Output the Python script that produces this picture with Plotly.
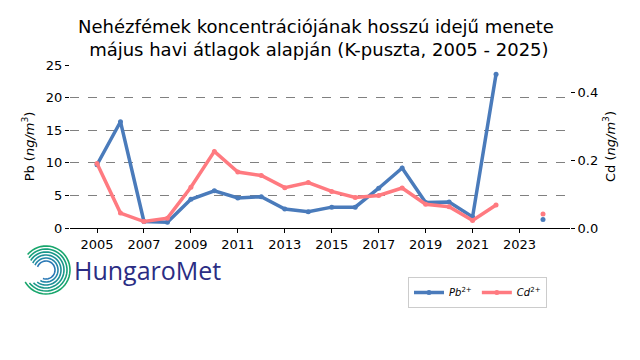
import numpy as np
import plotly.graph_objects as go

years = list(range(2005, 2025))
pb = [9.7, 16.3, 1.0, 0.9, 4.4, 5.7, 4.6, 4.8, 2.9, 2.5, 3.2, 3.2, 6.1, 9.2, 3.9, 4.0, 1.7, 23.6, None, 1.3]
cd = [0.19, 0.044, 0.019, 0.029, 0.12, 0.226, 0.165, 0.155, 0.119, 0.134, 0.108, 0.090, 0.096, 0.118, 0.070, 0.063, 0.022, 0.068, None, 0.041]
x_ticks = list(range(2005, 2025, 2))

BLUE = "#4a7bbb"
RED = "#ff7a80"
FONT = "DejaVu Sans"

OFF = 8  # page body margin
W, H = 640 - OFF, 360 - OFF
L, T = 70 - OFF, 65 - OFF
pw, ph = 500, 163
R = W - L - pw
B = H - T - ph

def px2paper(px, py):
    # screen pixel -> paper coords
    return (px - OFF - L) / pw, (T + ph - (py - OFF)) / ph

fig = go.Figure()
fig.add_trace(go.Scatter(x=years, y=pb, name="<i>Pb</i><sup>2+</sup>", mode="lines+markers",
                         line=dict(color=BLUE, width=3.5), marker=dict(size=5, color=BLUE),
                         connectgaps=False, yaxis="y"))
fig.add_trace(go.Scatter(x=years, y=cd, name="<i>Cd</i><sup>2+</sup>", mode="lines+markers",
                         line=dict(color=RED, width=3.5), marker=dict(size=5, color=RED),
                         connectgaps=False, yaxis="y2"))

# logo arcs (decoration)
shapes = []
cx, cy = 46, 270
radii = [9, 12, 15, 18, 21, 24]
cols = ["#2a78b5", "#2386a8", "#1d8f98", "#19978a", "#17a07a", "#18a66c"]
for i, (r, c) in enumerate(zip(radii, cols)):
    a0 = np.deg2rad(160 - i * 4)
    a1 = np.deg2rad(-110 - i * 8)
    ang = np.linspace(a0, a1, 40)
    pts = [px2paper(cx + r * np.cos(a), cy - r * np.sin(a)) for a in ang]
    path = "M " + " L ".join(f"{p[0]:.4f},{p[1]:.4f}" for p in pts)
    shapes.append(dict(type="path", xref="paper", yref="paper", path=path,
                       line=dict(color=c, width=1.6)))

lx, ly = px2paper(408, 277)
tx, ty = px2paper(72, 270)

fig.update_layout(
    width=W, height=H,
    margin=dict(l=L, r=R, t=T, b=B, autoexpand=False),
    paper_bgcolor="white", plot_bgcolor="white",
    font=dict(family=FONT, size=13, color="black"),
    title=dict(text="Nehézfémek koncentrációjának hosszú idejű menete<br> május havi átlagok alapján (K-puszta, 2005 - 2025)",
               x=(316 - OFF) / W, xanchor="center", yref="container", y=1 - (32.5 - OFF) / H, yanchor="middle",
               font=dict(family=FONT, size=18, color="black")),
    xaxis=dict(range=[2003.85, 2025.15], tickvals=x_ticks, ticktext=[str(v) for v in x_ticks],
               showgrid=False, zeroline=False, showline=True, linecolor="black", linewidth=1,
               ticks="outside", ticklen=4, tickcolor="black", tickfont=dict(size=13), automargin=False),
    yaxis=dict(range=[0, 25], tickvals=[0, 5, 10, 15, 20, 25], showgrid=True,
               gridcolor="#808080", griddash="dash", gridwidth=1, zeroline=False, showline=False,
               ticks="outside", ticklen=4, tickcolor="black", automargin=False,
               title=dict(text="Pb (<i>ng/m</i><sup>3</sup>)", font=dict(size=13), standoff=8)),
    yaxis2=dict(range=[0, 0.481], tickvals=[0.0, 0.2, 0.4], ticktext=["0.0", "0.2", "0.4"],
                overlaying="y", side="right", showgrid=False, zeroline=False, showline=False,
                ticks="outside", ticklen=4, tickcolor="black", automargin=False,
                title=dict(text="Cd (<i>ng/m</i><sup>3</sup>)", font=dict(size=13), standoff=8)),
    legend=dict(orientation="h", x=lx, y=ly, xanchor="left", yanchor="top",
                bordercolor="#cccccc", borderwidth=1, font=dict(size=10), bgcolor="white"),
    shapes=shapes,
    annotations=[dict(text="HungaroMet", xref="paper", yref="paper",
                      x=tx, y=ty, xanchor="left", yanchor="middle",
                      showarrow=False, font=dict(family="Open Sans", size=25, color="#2b2d84"))],
)

fig.write_html("out.html")
